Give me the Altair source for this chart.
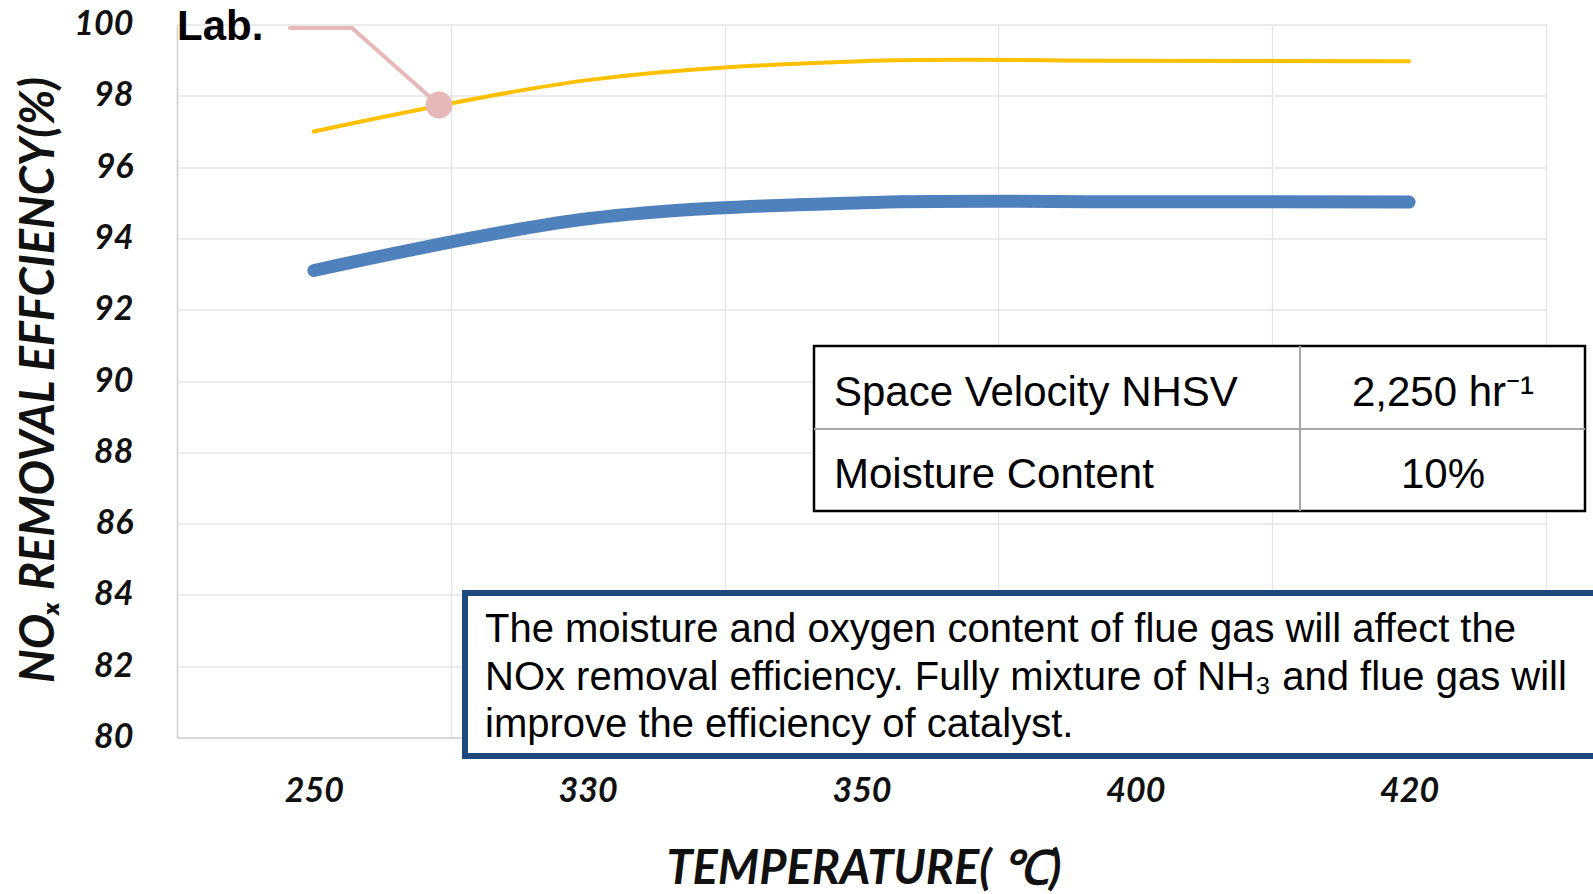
import json
import altair as alt
import pandas as pd

# ---- data ----
temps = ["250", "330", "350", "400", "420"]
lab_eff = [97.0, 98.44, 98.97, 98.98, 98.97]
field_eff = [93.1, 94.55, 95.0, 95.03, 95.02]
y_ticks = list(range(80, 101, 2))

lab_df = pd.DataFrame({"idx": list(range(len(temps))), "temp": temps, "eff": lab_eff})
field_df = pd.DataFrame({"idx": list(range(len(temps))), "temp": temps, "eff": field_eff})

x_values = sorted(list(range(len(temps))) + [i - 0.5 for i in range(len(temps) + 1)])
label_expr = "datum.value % 1 === 0 ? " + json.dumps(temps) + "[datum.value] : ''"

GRID = "#e4e4e4"
DOMAIN = "#d0d0d0"
LFONT = "Lato"

x_enc = alt.X(
    "idx:Q",
    scale=alt.Scale(domain=[-0.5, len(temps) - 0.5], nice=False, zero=False),
    axis=alt.Axis(
        values=x_values, labelExpr=label_expr, grid=True, gridColor=GRID, gridWidth=1.3,
        gridOpacity={"condition": {"test": "datum.value % 1 !== 0", "value": 1}, "value": 0},
        ticks=False, domain=True, domainColor=DOMAIN, domainWidth=1.5,
        labelFont=LFONT, labelFontSize=34, labelFontStyle="italic", labelFontWeight="bold",
        labelColor="#111111", labelPadding=37, labelOverlap=False, labelFlush=False, title=None,
    ),
)
y_enc = alt.Y(
    "eff:Q",
    scale=alt.Scale(domain=[80, 100], nice=False, zero=False),
    axis=alt.Axis(
        values=y_ticks, grid=True, gridColor=GRID, gridWidth=1.3, ticks=False,
        domain=True, domainColor=DOMAIN, domainWidth=1.5,
        labelFont=LFONT, labelFontSize=34, labelFontStyle="italic", labelFontWeight="bold",
        labelColor="#111111", labelPadding=44, labelFlush=False, labelOverlap=False, title=None,
    ),
)

field_line = alt.Chart(field_df).mark_line(
    color="#4F81BD", strokeWidth=13, strokeCap="round", interpolate="catmull-rom"
).encode(x=x_enc, y=y_enc)

lab_line = alt.Chart(lab_df).mark_line(
    color="#FFC000", strokeWidth=4, strokeCap="round", interpolate="catmull-rom"
).encode(x="idx:Q", y="eff:Q")

base = alt.Chart(pd.DataFrame({"k": [0]}))


def text(s, x, y, size, font="Liberation Sans", align="left", weight="normal",
         style="normal", angle=0, baseline="alphabetic", line_height=None, color="#000000"):
    kw = dict(text=s, font=font, fontSize=size, align=align, fontWeight=weight,
              fontStyle=style, angle=angle, baseline=baseline, color=color)
    if line_height:
        kw["lineHeight"] = line_height
    return base.mark_text(**kw).encode(x=alt.value(x), y=alt.value(y))


def rule(x1, y1, x2, y2, color, width, cap="butt"):
    return base.mark_rule(color=color, strokeWidth=width, strokeCap=cap).encode(
        x=alt.value(x1), y=alt.value(y1), x2=alt.value(x2), y2=alt.value(y2))


PINK = "#E6B9B8"
callout = [
    rule(113, 3.5, 175, 3.5, PINK, 4, "round"),
    rule(175, 3.5, 262, 80.5, PINK, 4, "round"),
    base.mark_circle(color=PINK, opacity=1, size=720).encode(x=alt.value(262), y=alt.value(80.5)),
    text("Lab.", 0, 15.5, 42, weight="bold"),
]

# parameter table
table = [
    base.mark_rect(fill="white", stroke="#000000", strokeWidth=2.5).encode(
        x=alt.value(637), x2=alt.value(1408), y=alt.value(321.5), y2=alt.value(486.5)),
    rule(637, 404.5, 1408, 404.5, "#a6a6a6", 2),
    rule(1123, 321.5, 1123, 486.5, "#a6a6a6", 2),
    text("Space Velocity NHSV", 657, 381.5, 42),
    text("Moisture Content", 657, 463.5, 42),
    text("2,250 hr⁻¹", 1266, 381.5, 42, align="center"),
    text("10%", 1266, 463.5, 42, align="center"),
]

# note box
note_lines = [
    "The moisture and oxygen content of flue gas will affect the",
    "NOx removal efficiency. Fully mixture of NH₃ and flue gas will",
    "improve the efficiency of catalyst.",
]
note = [
    base.mark_rect(fill="white", stroke="#1F497D", strokeWidth=6).encode(
        x=alt.value(288), x2=alt.value(1430), y=alt.value(568.5), y2=alt.value(731.5)),
    text(note_lines, 308, 617.5, 40, line_height=47.5),
]

titles = [
    text("NOₓ REMOVAL EFFCIENCY(%)", -137, 355.5, 47, font=LFONT, weight="bold",
         style="italic", angle=270, align="center", baseline="middle", color="#111111"),
    text("TEMPERATURE( ℃)", 687, 859, 47, font=LFONT, weight="bold",
         style="italic", align="center", color="#111111"),
]

chart = alt.layer(field_line, lab_line, *callout, *table, *note, *titles).properties(
    width=1369, height=713,
    autosize=alt.AutoSizeParams(type="none"),
    padding={"left": 177, "top": 24.5, "right": 47, "bottom": 156.5},
    background="white",
).configure_view(stroke=None)

chart.save("out.html", embed_options={"renderer": "svg", "actions": False})
